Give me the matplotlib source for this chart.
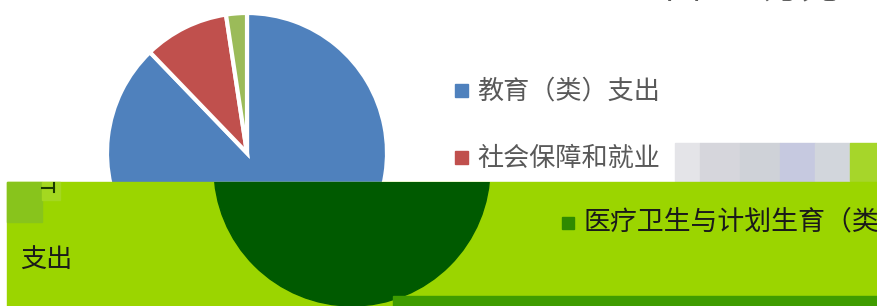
import matplotlib
matplotlib.use("Agg")
import matplotlib.pyplot as plt
from matplotlib.patches import Rectangle, Circle

plt.rcParams['font.family'] = ['Noto Sans CJK SC', 'DejaVu Sans']

# data (万元)
labels = ['教育（类）支出', '社会保障和就业', '医疗卫生与计划生育（类）']
values = [8780, 980, 240]
colors = ['#4f81bd', '#c0504d', '#9bbb59']
legend_colors = ['#4f81bd', '#c0504d', '#2f8a00']
unit_text = '单位：万元'

W, H = 878, 306
fig = plt.figure(figsize=(W / 100, H / 100), dpi=100)
ax = fig.add_axes([0, 0, 1, 1])

def yy(y_img):
    # image row -> axes y
    return H - y_img

# pie (upper part)
ax.pie(values, colors=colors, startangle=90, counterclock=False,
       center=(247, yy(153)), radius=140,
       wedgeprops=dict(edgecolor='white', linewidth=3))

# title, cut off at the top
ax.text(745, yy(-12), unit_text, fontsize=27, color='#595959',
        ha='center', va='center')

# legend entries in the white part
for i, ycen in enumerate([91, 158]):
    ax.add_patch(Rectangle((455, yy(ycen + 6)), 13, 13, color=legend_colors[i], zorder=3))
    ax.text(477, yy(ycen), labels[i], fontsize=18.8, color='#595959',
            ha='left', va='center', zorder=3)

# noisy strip right of second entry
for x0, x1, c in [(675, 700, '#e4e4e8'), (700, 740, '#d6d6dc'), (740, 780, '#cfd2d8'),
                  (780, 815, '#c6c9e0'), (815, 850, '#d2d6dc'), (850, 878, '#a6d62a')]:
    ax.add_patch(Rectangle((x0, yy(181)), x1 - x0, 38, color=c, zorder=2))

# green band over the lower half
band = Rectangle((7, 0), W - 7, yy(182), color='#9bd500', zorder=4)
ax.add_patch(band)
dark = Circle((352, yy(168)), 138, color='#005a00', zorder=5)
ax.add_patch(dark)
dark.set_clip_path(band)
ax.add_patch(Rectangle((393, 0), W - 393, 10, color='#3f9c00', zorder=6))

# noise patch at top-left of band
ax.add_patch(Rectangle((7, yy(222)), 35, 40, color='#88c41c', zorder=6))
ax.add_patch(Rectangle((42, yy(200)), 18, 18, color='#a4d820', zorder=6))
ax.plot([42, 54], [yy(188), yy(188)], color='#1a3a00', lw=1.5, zorder=7)
ax.plot([54, 54], [yy(183), yy(192)], color='#1a3a00', lw=1.5, zorder=7)

# texts inside the band
ax.add_patch(Rectangle((562, yy(229)), 12, 12, color=legend_colors[2], zorder=7))
ax.text(584, yy(222), labels[2], fontsize=19.4, color='#1a1a1a',
        ha='left', va='center', zorder=7)
ax.text(20, yy(260), '支出', fontsize=18.8, color='#1a1a1a',
        ha='left', va='center', zorder=7)

ax.set_xlim(0, W)
ax.set_ylim(0, H)
ax.set_aspect('auto')
ax.axis('off')

fig.savefig('out.png', dpi=100)
